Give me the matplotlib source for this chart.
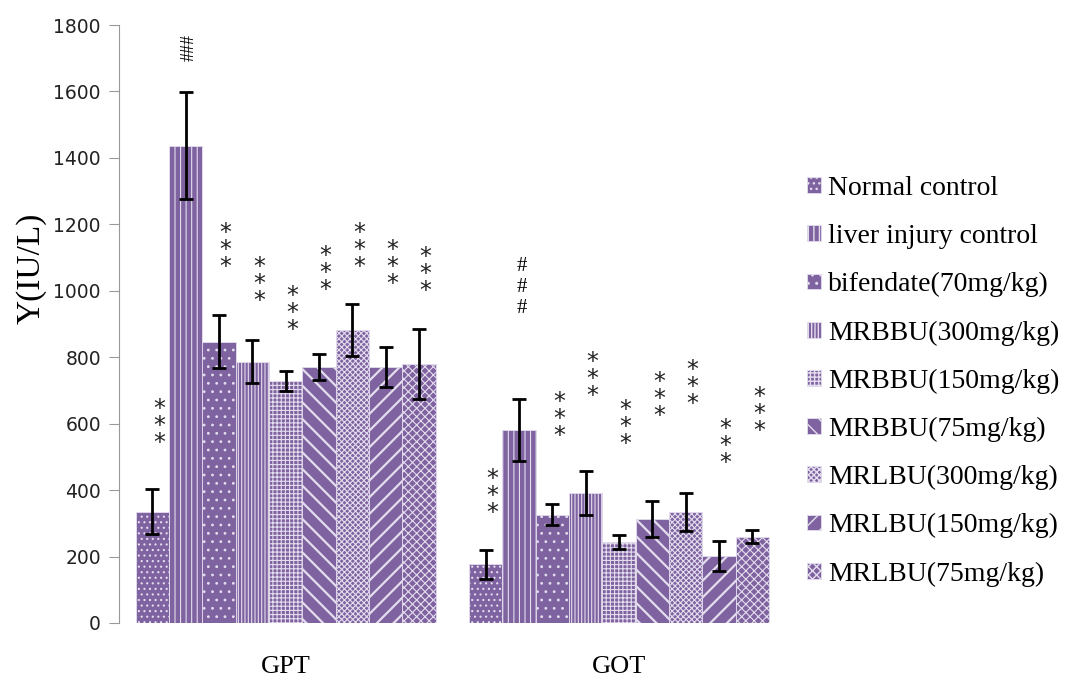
import numpy as np
import matplotlib
matplotlib.use("Agg")
import matplotlib.pyplot as plt

# data
categories = ["GPT", "GOT"]
groups = ["Normal control", "liver injury control", "bifendate(70mg/kg)",
          "MRBBU(300mg/kg)", "MRBBU(150mg/kg)", "MRBBU(75mg/kg)",
          "MRLBU(300mg/kg)", "MRLBU(150mg/kg)", "MRLBU(75mg/kg)"]
gpt_mean = [335, 1437, 847, 787, 728, 770, 882, 770, 779]
gpt_err = [68, 160, 80, 65, 30, 40, 79, 61, 106]
got_mean = [177, 580, 326, 392, 244, 313, 334, 201, 260]
got_err = [44, 93, 32, 67, 21, 54, 58, 46, 19]

# significance marks (text, y position in IU/L) per group
gpt_marks = ["***", "###", "***", "***", "***", "***", "***", "***", "***"]
gpt_mark_y = [593, 1731, 1123, 1020, 933, 1054, 1123, 1072, 1051]
got_marks = ["***", "###", "***", "***", "***", "***", "***", "***", "***"]
got_mark_y = [382, 1011, 614, 734, 590, 674, 710, 533, 629]

hatches = ["...", "|||", "..", "|||||", "++++", "\\\\", "xxxxxx", "//", "xxxx"]
purple = "#7F63A1"
serif = "Liberation Serif"

fig = plt.figure(figsize=(10.65, 6.81), dpi=100)
ax = fig.add_axes([0.1117, 0.0852, 0.626, 0.878])

means = np.array([gpt_mean, got_mean])
errs = np.array([gpt_err, got_err])
x = np.arange(len(categories))
w = 0.1
n = len(groups)

for i in range(n):
    pos = x - 0.45 + w * (i + 0.5)
    bars = ax.bar(pos, means[:, i], w, color=purple, edgecolor="#E4DDEE",
                  linewidth=0.6, hatch=hatches[i], label=groups[i], zorder=2)
    for b in bars:
        if hasattr(b, "set_hatch_linewidth"):
            b.set_hatch_linewidth(1.6 if hatches[i] in ("\\\\", "//") else 0.8)
    ax.errorbar(pos, means[:, i], yerr=errs[:, i], fmt="none", ecolor="black",
                elinewidth=2, capsize=5, capthick=2, zorder=3)

# stars / hashes
for j, (marks, ys) in enumerate([(gpt_marks, gpt_mark_y), (got_marks, got_mark_y)]):
    for i in range(n):
        px = j - 0.45 + w * (i + 0.5) + 0.02
        if marks[i] == "###" and j == 0:
            ax.text(px - 0.01, ys[i], "###", rotation=90, ha="center", va="center",
                    fontsize=13, family=serif)
        elif marks[i] == "###":
            ax.text(px - 0.01, ys[i], "#\n#\n#", ha="center", va="center",
                    fontsize=15, family=serif, linespacing=1.15)
        else:
            ax.text(px, ys[i], "*\n*\n*", ha="center", va="center",
                    fontsize=17, family="DejaVu Sans", linespacing=0.62,
                    color="#222222")

ax.set_xlim(-0.5, 1.5)
ax.set_ylim(0, 1800)
ax.set_yticks(np.arange(0, 1801, 200))
ax.set_xticks(x)
ax.set_xticklabels(categories, family=serif, fontsize=19)
ax.tick_params(axis="x", length=0, pad=24)
ax.tick_params(axis="y", direction="out", length=7, color="#999999",
               labelsize=13.5, labelcolor="#222222", pad=6)
for s in ["top", "right", "bottom"]:
    ax.spines[s].set_visible(False)
ax.spines["left"].set_color("#999999")
ax.set_ylabel("Y(IU/L)", family=serif, fontsize=24)
ax.yaxis.set_label_coords(-0.108, 0.594)

ax.legend(loc="center left", bbox_to_anchor=(0.758, 0.44),
          bbox_transform=fig.transFigure, frameon=False,
          prop={"family": serif, "size": 20}, handlelength=0.5,
          handleheight=0.5, handletextpad=0.25, labelspacing=0.83,
          borderpad=0, borderaxespad=0)

fig.savefig("out.png", dpi=100)
